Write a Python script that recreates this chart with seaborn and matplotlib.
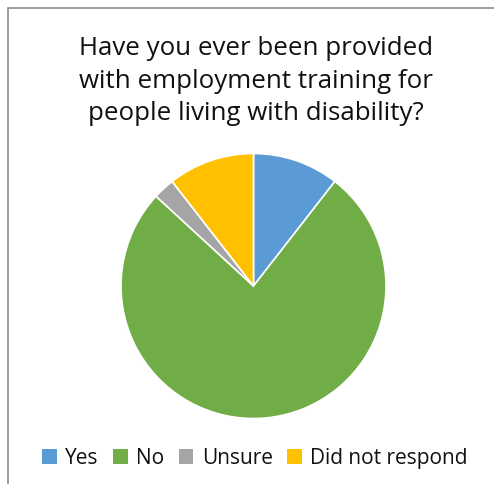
import matplotlib
matplotlib.use("Agg")
import matplotlib.pyplot as plt
from matplotlib.patches import Rectangle, Patch
import seaborn as sns

# Survey responses
categories = ["Yes", "No", "Unsure", "Did not respond"]
counts = [4, 29, 1, 4]
colors = ["#5B9BD5", "#70AD47", "#A5A5A5", "#FFC000"]
title = "Have you ever been provided\nwith employment training for\npeople living with disability?"

sns.set_theme(style="white")
plt.rcParams["font.family"] = ["Open Sans", "DejaVu Sans"]

W, H = 494, 485
fig = plt.figure(figsize=(W / 100, H / 100), dpi=100)
fig.patch.set_facecolor("white")

# pie axes: center (253.5, 287) px, radius 132.5 px
cx, cy, r = 253.5, 287, 132.5
ax = fig.add_axes([(cx - r) / W, (H - cy - r) / H, 2 * r / W, 2 * r / H])
ax.pie(counts, colors=colors, startangle=90, counterclock=False,
       wedgeprops=dict(edgecolor="white", linewidth=1.2))
ax.set_xlim(-1, 1)
ax.set_ylim(-1, 1)
ax.set_aspect("equal")
ax.axis("off")

fig.text(256 / W, 1 - 81 / H, title, ha="center", va="center",
         fontsize=18.6, linespacing=1.38, color="#111111")

handles = [Patch(facecolor=c, edgecolor="none") for c in colors]
fig.legend(handles, categories, loc="center", bbox_to_anchor=(255 / W, 1 - 459 / H),
           ncol=4, frameon=False, fontsize=15, handlelength=0.7, handleheight=0.7,
           handletextpad=0.4, columnspacing=0.7, labelcolor="#111111")

# chart-area border
fig.patches.append(Rectangle((7.5 / W, -0.5), 2, 1.5 - 9 / H, transform=fig.transFigure,
                             fill=False, edgecolor="#8c8c8c", linewidth=1.2))

fig.savefig("out.png", dpi=100, facecolor="white")
